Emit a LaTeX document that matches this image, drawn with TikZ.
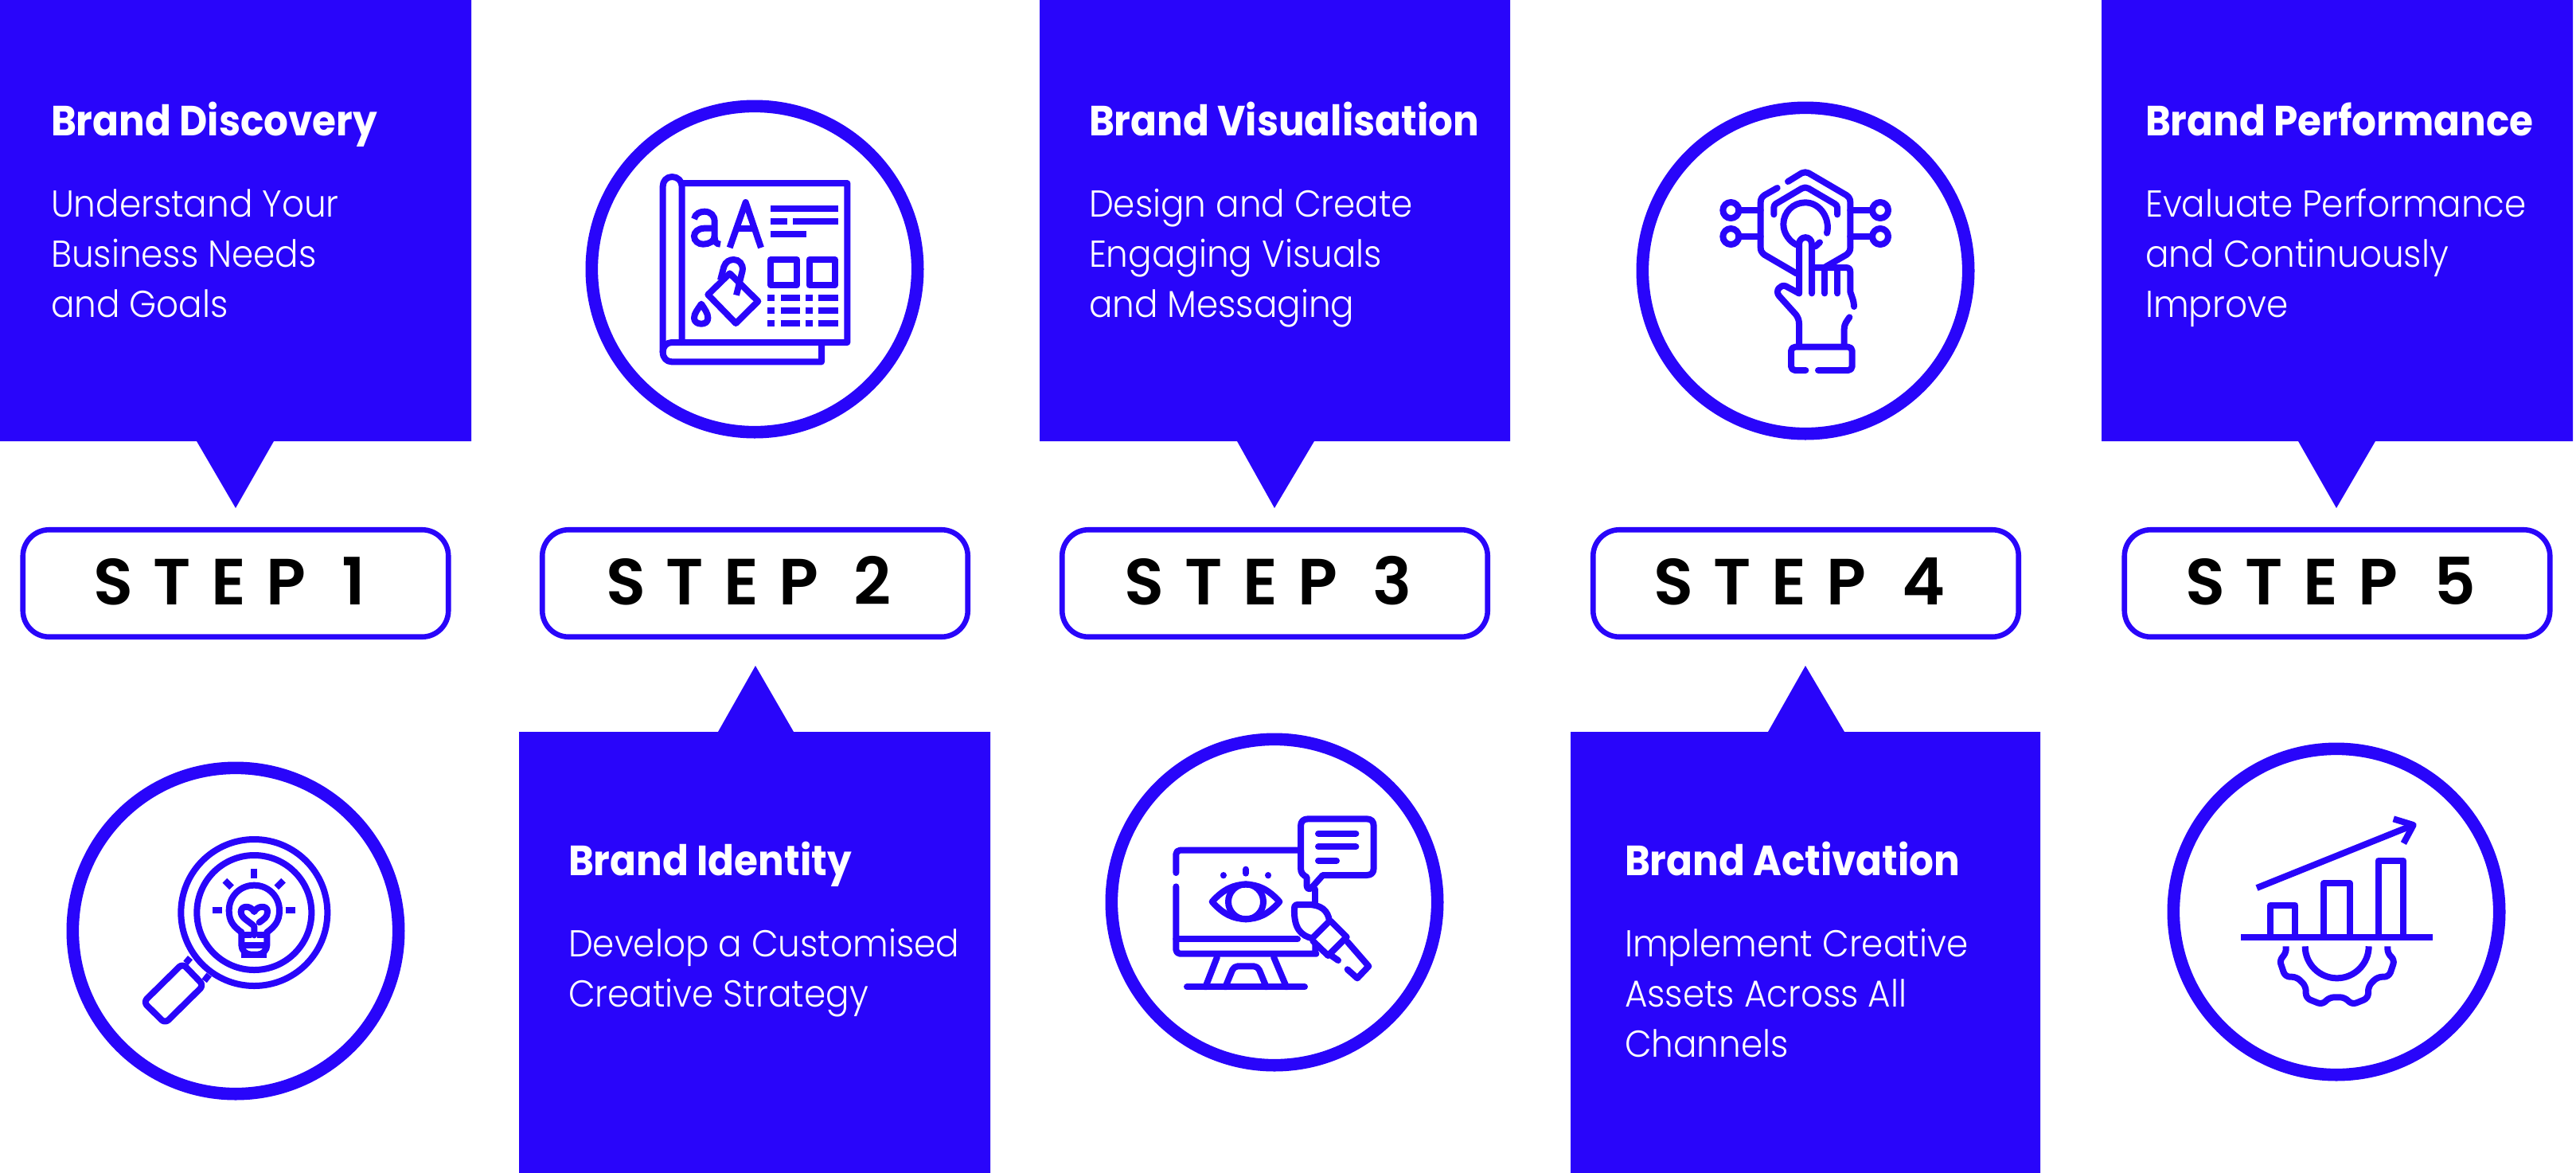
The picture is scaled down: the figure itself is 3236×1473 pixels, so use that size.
\documentclass[tikz,border=0pt]{standalone}
\usepackage{fontspec}
\setmainfont{Poppins}
\newfontfamily\headfont{Poppins}[BoldFont={* Bold},FakeStretch=0.915]
\newfontfamily\bodyfont{Poppins Light}[FakeStretch=0.93]
\newfontfamily\stepfont{Poppins SemiBold}[LetterSpace=31]
\usetikzlibrary{backgrounds}
\definecolor{brandblue}{HTML}{2905FA}
\definecolor{brandyellow}{HTML}{FFE91E}
\tikzset{
  callout/.style={fill=brandblue,draw=none},
  headtxt/.style={anchor=base west,inner sep=0pt,outer sep=0pt,text=white,font=\headfont\fontsize{26.5}{30}\selectfont},
  bodytxt/.style={anchor=base west,inner sep=0pt,outer sep=0pt,text=white,align=left,font=\bodyfont\fontsize{23.5}{31.3}\selectfont},
  stepbox/.style={draw=brandblue,fill=white,line width=3.3pt,rounded corners=16.5pt,minimum width=267.25pt,minimum height=67.25pt,inner sep=0pt,outer sep=0pt,text height=28pt,text depth=1.5pt,text=black,font=\stepfont\fontsize{41}{41}\selectfont},
  bar/.style={draw=brandyellow,line width=26pt},
  ring/.style={draw=brandblue,line width=7.8pt,fill=white,shape=circle,minimum size=204.7pt,inner sep=0pt,outer sep=0pt},
  icon/.style={draw=brandblue,line width=4pt,line join=round,line cap=round},
  iconb/.style={draw=brandblue,line width=4pt,line join=miter,line cap=butt},
  iconspace/.style={x=0.16667pt,y=-0.16667pt}
}
\newcommand{\steptxt}[1]{#1\kern8pt}
\begin{document}
\begin{tikzpicture}[x=0.5pt,y=-0.5pt]
\useasboundingbox (0,0) rectangle (3236,1473);
\fill[white] (0,0) rectangle (3236,1473);
% callouts
\fill[callout] (0,0) -- (592,0) -- (592,554) -- (344,554) -- (296,638) -- (247,554) -- (0,554) -- cycle;
\fill[callout] (652,919) -- (902,919) -- (949,836) -- (997,919) -- (1244,919) -- (1244,1473) -- (652,1473) -- cycle;
\fill[callout] (1306,0) -- (1897,0) -- (1897,554) -- (1651,554) -- (1601,638) -- (1554,554) -- (1306,554) -- cycle;
\fill[callout] (1973,919) -- (2221,919) -- (2268,836) -- (2317,919) -- (2563,919) -- (2563,1473) -- (1973,1473) -- cycle;
\fill[callout] (2640,0) -- (3232,0) -- (3232,554) -- (2984,554) -- (2935,638) -- (2887,554) -- (2640,554) -- cycle;
% callout texts
\node[headtxt] (h1) at (64,170) {\bfseries Brand Discovery};
\node[bodytxt] (b1) at (64,398) {Understand Your\\Business Needs\\and Goals};
\node[headtxt] (h2) at (714,1099) {\bfseries Brand Identity};
\node[bodytxt] (b2) at (714,1264) {Develop a Customised\\Creative Strategy};
\node[headtxt] (h3) at (1368,170) {\bfseries Brand Visualisation};
\node[bodytxt] (b3) at (1368,398) {Design and Create\\Engaging Visuals\\and Messaging};
\node[headtxt] (h4) at (2041,1099) {\bfseries Brand Activation};
\node[bodytxt] (b4) at (2041,1327) {Implement Creative\\Assets Across All\\Channels};
\node[headtxt] (h5) at (2695,170) {\bfseries Brand Performance};
\node[bodytxt] (b5) at (2695,398) {Evaluate Performance\\and Continuously\\Improve};
% steps
\node[stepbox] (s1) at (296,732.5) {\steptxt{STEP 1}};
\node[stepbox] (s2) at (948.5,732.5) {\steptxt{STEP 2}};
\node[stepbox] (s3) at (1601.5,732.5) {\steptxt{STEP 3}};
\node[stepbox] (s4) at (2268.5,732.5) {\steptxt{STEP 4}};
\node[stepbox] (s5) at (2936,732.5) {\steptxt{STEP 5}};
\begin{pgfonlayer}{background}
\draw[bar] ([yshift=2.25pt]s1.east) -- ([yshift=2.25pt]s2.west);
\draw[bar] ([yshift=2.25pt]s2.east) -- ([yshift=2.25pt]s3.west);
\draw[bar] ([yshift=2.25pt]s3.east) -- ([yshift=2.25pt]s4.west);
\draw[bar] ([yshift=2.25pt]s4.east) -- ([yshift=2.25pt]s5.west);
\end{pgfonlayer}
% rings
\node[ring] (c1) at (296,1169) {};
\node[ring] (c2) at (948,338) {};
\node[ring] (c3) at (1601,1133) {};
\node[ring] (c4) at (2268,340) {};
\node[ring] (c5) at (2935,1145) {};
% ICON 1
\begin{scope}[shift={(60,930)},iconspace]
\draw[icon] (778,648) circle (276);
\draw[icon] (778,648) circle (216);
\draw[icon,rounded corners=3pt] (508,840) -- (587,922) -- (442,1065) -- (361,985) -- cycle;
\draw[iconb] (537,818) -- (520,838);
\draw[iconb] (608,882) -- (590,905);
\draw[iconb] (778,482) -- (778,520);
\draw[iconb] (620,638) -- (658,638);
\draw[iconb] (896,638) -- (934,638);
\draw[iconb] (667,527) -- (693,553);
\draw[iconb] (888,527) -- (862,553);
\draw[icon] (730,722) .. controls (700,700) and (683,680) .. (683,640) .. controls (683,587) and (725,545) .. (778,545) .. controls (831,545) and (873,587) .. (873,640) .. controls (873,680) and (856,700) .. (826,722);
\draw[icon,rounded corners=6pt] (730,722) -- (730,806) -- (826,806) -- (826,722);
\draw[iconb] (730,733) -- (767,733);
\draw[iconb] (790,733) -- (826,733);
\draw[iconb] (730,770) -- (826,770);
\draw[iconb] (730,806) -- (826,806);
\draw[icon] (778,733) -- (778,700) .. controls (760,680) and (728,670) .. (728,645) .. controls (728,620) and (765,620) .. (778,645) .. controls (790,620) and (830,620) .. (828,645) .. controls (828,665) and (815,672) .. (797,685);
\end{scope}
% ICON 2
\begin{scope}[shift={(720,110)},iconspace]
\draw[icon] (410,360) -- (1033,360) -- (1033,960) -- (372,960) .. controls (352,960) and (338,975) .. (338,996) .. controls (338,1018) and (352,1033) .. (372,1033) -- (936,1033) -- (936,960);
\draw[icon] (338,996) -- (338,372) .. controls (338,352) and (352,336) .. (373,336) .. controls (394,336) and (410,352) .. (410,372) -- (410,960);
\draw[iconb] (456,495) .. controls (460,475) and (478,467) .. (495,467) .. controls (518,467) and (533,482) .. (533,505) -- (533,565) .. controls (533,580) and (540,590) .. (555,590);
\draw[iconb] (533,530) -- (495,530) .. controls (470,530) and (456,545) .. (456,560) .. controls (456,578) and (472,590) .. (490,590) .. controls (512,590) and (533,578) .. (533,560);
\draw[iconb,line join=round] (590,603) -- (650,432) -- (708,603);
\draw[iconb] (612,530) -- (688,530);
\draw[iconb] (745,456) -- (998,456);
\draw[iconb] (745,504) -- (807,504);
\draw[iconb] (828,504) -- (998,504);
\draw[iconb] (745,552) -- (878,552);
\draw[iconb,line join=round] (745,648) rectangle (843,744);
\draw[iconb,line join=round] (890,648) rectangle (986,744);
\foreach \yy in {792,840,888}{
 \draw[iconb] (733,\yy) -- (758,\yy);
 \draw[iconb] (782,\yy) -- (854,\yy);
 \draw[iconb] (877,\yy) -- (902,\yy);
 \draw[iconb] (925,\yy) -- (998,\yy);
}
\draw[icon] (590,700) -- (697,805) -- (613,888) -- (508,780) -- cycle;
\draw[iconb] (555,725) -- (568,675) .. controls (575,655) and (590,648) .. (605,648) .. controls (625,648) and (642,665) .. (638,690) -- (615,782);
\draw[icon] (483,815) .. controls (470,835) and (456,850) .. (456,868) .. controls (456,882) and (468,890) .. (483,890) .. controls (498,890) and (508,882) .. (508,868) .. controls (508,850) and (496,835) .. (483,815) -- cycle;
\end{scope}
% ICON 3
\begin{scope}[shift={(1380,900)},iconspace]
\draw[icon,rounded corners=2.5pt] (292,588) -- (292,503) -- (762,503);
\draw[icon,rounded corners=2.5pt] (292,640) -- (292,893) -- (805,893) .. controls (815,893) and (817,885) .. (817,875) -- (817,855);
\draw[icon] (292,838) -- (750,838);
\draw[icon] (817,650) -- (817,705);
\draw[icon] (403,1018) -- (447,905);
\draw[icon] (708,1018) -- (660,905);
\draw[icon,rounded corners=2.5pt] (478,1018) -- (510,940) -- (600,940) -- (632,1018);
\draw[icon] (333,1018) -- (777,1018);
\draw[icon] (428,697) .. controls (470,650) and (510,632) .. (555,632) .. controls (600,632) and (640,650) .. (682,697) .. controls (640,745) and (600,762) .. (555,762) .. controls (510,762) and (470,745) .. (428,697) -- cycle;
\draw[icon] (555,697) circle (66);
\draw[icon] (555,575) -- (555,590);
\draw[icon] (470,597) -- (470,598);
\draw[icon] (640,597) -- (640,598);
\draw[icon] (790,385) -- (1010,385) .. controls (1028,385) and (1037,394) .. (1037,412) -- (1037,570) .. controls (1037,588) and (1028,597) .. (1010,597) -- (845,597) -- (805,642) .. controls (798,652) and (785,650) .. (785,638) -- (785,605) .. controls (770,595) and (762,590) .. (762,570) -- (762,412) .. controls (762,394) and (772,385) .. (790,385) -- cycle;
\draw[icon] (828,440) -- (970,440);
\draw[icon] (828,490) -- (970,490);
\draw[icon] (828,542) -- (897,542);
\draw[icon] (738,722) .. controls (738,712) and (742,708) .. (752,708) -- (790,708) .. controls (838,708) and (865,730) .. (870,770) -- (805,835) .. controls (765,825) and (735,800) .. (738,722) -- cycle;
\draw[icon] (875,770) -- (935,830) -- (865,900) -- (808,845);
\draw[icon] (938,848) -- (1018,940) -- (975,985) -- (938,952);
\draw[icon] (870,895) -- (903,918);
\end{scope}
% ICON 4
\begin{scope}[shift={(2040,110)},iconspace]
\draw[icon] (618,354) -- (670,322) .. controls (678,318) and (688,318) .. (696,322) -- (838,405) .. controls (848,412) and (853,420) .. (853,432) -- (853,603) .. controls (853,615) and (848,622) .. (838,630) -- (755,678);
\draw[icon] (578,378) -- (530,405) .. controls (520,412) and (515,420) .. (515,432) -- (515,603) .. controls (515,615) and (520,622) .. (530,630) -- (650,700);
\draw[icon] (565,478) -- (565,452) .. controls (565,445) and (568,442) .. (572,438) -- (670,380) .. controls (678,375) and (688,375) .. (696,380) -- (795,438) .. controls (800,442) and (804,445) .. (804,452) -- (804,478);
\draw[icon] (765,548) .. controls (778,497) and (742,433) .. (683,433) .. controls (637,433) and (601,470) .. (601,515) .. controls (601,550) and (625,580) .. (650,592);
\draw[icon] (722,598) -- (738,583);
\draw[icon] (660,775) -- (660,590) .. controls (660,556) and (708,556) .. (708,590) -- (708,775);
\draw[icon] (708,678) -- (835,678) .. controls (848,678) and (853,683) .. (853,695) -- (853,770) .. controls (860,790) and (867,805) .. (867,825);
\draw[icon] (757,690) -- (757,775);
\draw[icon] (805,690) -- (805,775);
\draw[icon] (660,775) -- (610,748) .. controls (590,740) and (568,765) .. (585,785) -- (648,855) .. controls (655,865) and (660,875) .. (660,890) -- (660,975);
\draw[icon] (850,865) .. controls (840,880) and (830,890) .. (830,910) -- (830,975);
\draw[icon,rounded corners=2.5pt] (685,1065) -- (630,1065) -- (630,977) -- (860,977) -- (860,1065) -- (732,1065);
\draw[icon] (403,462) circle (30);
\draw[icon] (403,561) circle (30);
\draw[icon] (966,462) circle (30);
\draw[icon] (966,561) circle (30);
\draw[icon] (433,462) -- (515,462);
\draw[icon] (433,561) -- (515,561);
\draw[icon] (853,462) -- (936,462);
\draw[icon] (853,561) -- (936,561);
\end{scope}
% ICON 5
\begin{scope}[shift={(2710,910)},iconspace]
\draw[iconb] (316,801) -- (1037,801);
\draw[iconb,line join=round] (425,790) -- (425,680) -- (520,680) -- (520,790);
\draw[iconb,line join=round] (628,790) -- (628,597) -- (725,597) -- (725,790);
\draw[iconb,line join=round] (833,790) -- (833,512) -- (928,512) -- (928,790);
\draw[iconb] (375,615) -- (960,380);
\draw[iconb,line join=round] (890,355) -- (965,378) -- (928,447);
\draw[iconb,line join=round,rounded corners=3pt] (485,835) -- (485,864) -- (460,885) -- (482,950) -- (525,950) -- (560,985) -- (560,1030) -- (622,1055) -- (648,1027) -- (707,1027) -- (733,1055) -- (795,1030) -- (795,985) -- (830,950) -- (873,950) -- (895,885) -- (868,864) -- (868,835);
\draw[iconb] (557,835) .. controls (557,901) and (611,955) .. (677,955) .. controls (743,955) and (797,901) .. (797,835);
\end{scope}
\end{tikzpicture}
\end{document}
